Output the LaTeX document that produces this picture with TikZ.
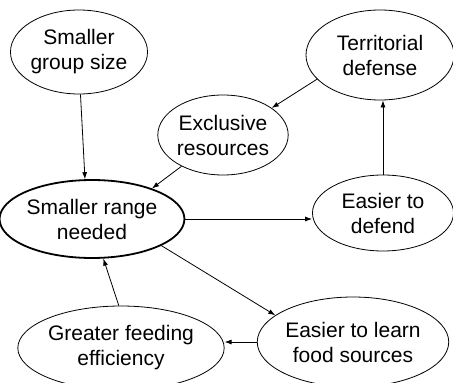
\documentclass[tikz,border=0pt]{standalone}
\usepackage{fontspec}
\setmainfont{Liberation Sans}
\usetikzlibrary{shapes.geometric,arrows.meta}
\begin{document}
\begin{tikzpicture}[x=1pt,y=1pt,
  bubble/.style={ellipse,draw,line width=0.8pt,inner sep=0pt,align=center,
    font=\fontsize{21}{25}\selectfont},
  link/.style={line width=0.8pt,-{Latex[length=7pt,width=5pt]}}]
\useasboundingbox (0,0) rectangle (453,-383);
\node[bubble,minimum width=133,minimum height=84] (g) at (79,-52) {Smaller\\group size};
\node[bubble,minimum width=148,minimum height=90] (t) at (380,-55) {Territorial\\defense};
\node[bubble,minimum width=123,minimum height=80] (x) at (223,-135) {Exclusive\\resources};
\node[bubble,minimum width=161,minimum height=78,line width=1.8pt] (r) at (92,-219) {Smaller range\\needed};
\node[bubble,minimum width=141,minimum height=76] (d) at (383,-213) {Easier to\\defend};
\node[bubble,minimum width=170,minimum height=90] (l) at (353,-342) {Easier to learn\\food sources};
\node[bubble,minimum width=170,minimum height=84] (f) at (121,-348) {Greater feeding\\efficiency};
\draw[link] (g.-88) -- (r.100);
\draw[link] (t.201) -- (x.29);
\draw[link] (x.217) -- (r.27);
\draw[link] (r.east) -- (r.east -| d.west);
\draw[link] (d.north) -- (d.north |- t.south);
\draw[link] (r.-21) -- (l.161);
\draw[link] (l.west) -- (l.west -| f.east);
\draw[link] (f.93) -- (r.-74);
\end{tikzpicture}
\end{document}
